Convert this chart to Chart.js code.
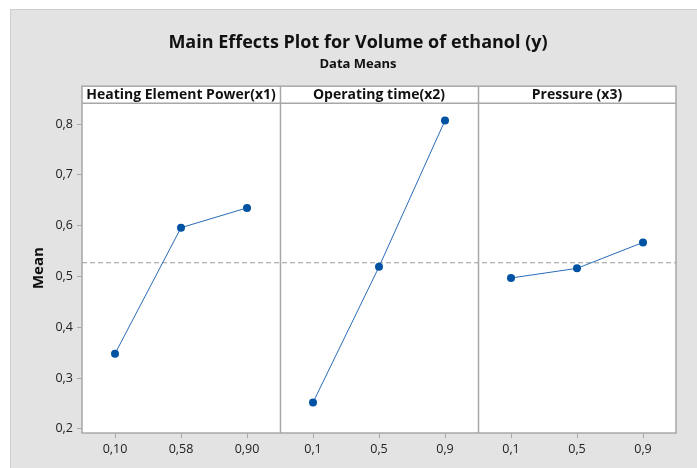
<!DOCTYPE html>
<html>
<head>
<meta charset="utf-8">
<script src="https://cdn.jsdelivr.net/npm/chart.js@4.4.0/dist/chart.umd.min.js"></script>
<style>
html, body { margin: 0; padding: 0; background: #fff; }
#wrap { width: 697px; height: 468px; }
</style>
</head>
<body>
<div id="wrap"><canvas id="myChart"></canvas></div>
<script>
// factor panels
var factorNames = ['Heating Element Power(x1)', 'Operating time(x2)', 'Pressure (x3)'];
var x1Levels = ['0,10', '0,58', '0,90'];
var x2Levels = ['0,1', '0,5', '0,9'];
var x3Levels = ['0,1', '0,5', '0,9'];

// data means
var x1Means = [0.348, 0.596, 0.635];
var x2Means = [0.252, 0.519, 0.807];
var x3Means = [0.497, 0.516, 0.567];
var grandMean = 0.527;

var yTicks = [0.2, 0.3, 0.4, 0.5, 0.6, 0.7, 0.8];

var levels = [x1Levels, x2Levels, x3Levels];
var means = [x1Means, x2Means, x3Means];
var fontFam = '"Open Sans", "Noto Sans", sans-serif';

function panelPoints(p) {
    return means[p].map(function (v, i) {
        return { x: p * 3 + i + 0.5, y: v };
    });
}

var lineColor = '#2b6cb8';
var pointColor = '#0052a3';

var datasets = [];
for (var p = 0; p < 3; p++) {
    datasets.push({
        data: panelPoints(p),
        borderColor: lineColor,
        borderWidth: 1,
        pointRadius: 4,
        pointBackgroundColor: pointColor,
        pointBorderColor: pointColor,
        pointBorderWidth: 0,
        order: 1
    });
}
// grand mean reference line
datasets.push({
    data: [{ x: 0, y: grandMean }, { x: 9, y: grandMean }],
    borderColor: '#9a9a9a',
    borderWidth: 1,
    borderDash: [5, 3],
    pointRadius: 0,
    order: 2
});

var panelPlugin = {
    id: 'panels',
    beforeDraw: function (chart) {
        var ctx = chart.ctx;
        ctx.save();
        ctx.fillStyle = '#fff';
        ctx.fillRect(0, 0, chart.width, chart.height);
        ctx.fillStyle = '#e3e3e3';
        ctx.fillRect(10, 9, chart.width - 10, chart.height - 9);
        ctx.strokeStyle = '#cfcfcf';
        ctx.lineWidth = 1;
        ctx.beginPath();
        ctx.moveTo(10.5, chart.height);
        ctx.lineTo(10.5, 9.5);
        ctx.lineTo(chart.width, 9.5);
        ctx.stroke();
        var a = chart.chartArea;
        ctx.fillStyle = '#fff';
        ctx.fillRect(a.left, a.top - 17, a.right - a.left, a.bottom - a.top + 17);
        ctx.restore();
    },
    afterDraw: function (chart) {
        var ctx = chart.ctx;
        var a = chart.chartArea;
        var xs = chart.scales.x;
        ctx.save();
        ctx.strokeStyle = '#a8a8a8';
        ctx.lineWidth = 1.5;
        ctx.strokeRect(a.left, a.top - 17, a.right - a.left, a.bottom - a.top + 17);
        ctx.beginPath();
        ctx.moveTo(a.left, a.top);
        ctx.lineTo(a.right, a.top);
        for (var k = 1; k < 3; k++) {
            var px = Math.round(xs.getPixelForValue(k * 3)) + 0.5;
            ctx.moveTo(px, a.top - 17);
            ctx.lineTo(px, a.bottom);
        }
        ctx.stroke();
        ctx.fillStyle = '#111';
        ctx.font = 'bold 14px ' + fontFam;
        ctx.textAlign = 'center';
        ctx.textBaseline = 'middle';
        for (var j = 0; j < 3; j++) {
            var cx = xs.getPixelForValue(j * 3 + 1.5);
            ctx.fillText(factorNames[j], cx, a.top - 8);
        }
        ctx.restore();
    }
};

var chart = new Chart(document.getElementById('myChart').getContext('2d'), {
    type: 'line',
    data: { datasets: datasets },
    options: {
        responsive: true,
        maintainAspectRatio: false,
        animation: false,
        layout: { padding: { left: 19, right: 0, top: 9, bottom: 0 } },
        plugins: {
            legend: { display: false },
            tooltip: { enabled: false },
            title: {
                display: true,
                text: 'Main Effects Plot for Volume of ethanol (y)',
                color: '#111',
                font: { family: fontFam, size: 18, weight: 'bold' },
                padding: { top: 23, bottom: 3 }
            },
            subtitle: {
                display: true,
                text: 'Data Means',
                color: '#111',
                font: { family: fontFam, size: 13, weight: 'bold' },
                padding: { top: 0, bottom: 31 }
            }
        },
        scales: {
            x: {
                type: 'linear',
                min: 0,
                max: 9,
                afterBuildTicks: function (scale) {
                    var t = [];
                    for (var p = 0; p < 3; p++) {
                        for (var i = 0; i < 3; i++) t.push({ value: p * 3 + i + 0.5 });
                    }
                    scale.ticks = t;
                },
                afterFit: function (scale) { scale.height = 35; },
                ticks: {
                    autoSkip: false,
                    maxRotation: 0,
                    padding: 4,
                    color: '#222',
                    font: { family: fontFam, size: 12.5 },
                    callback: function (v) {
                        var p = Math.floor(v / 3);
                        var i = Math.floor(v - p * 3);
                        return levels[p][i];
                    }
                },
                grid: { drawOnChartArea: false, drawTicks: true, tickLength: 5, color: '#a8a8a8' },
                border: { display: false }
            },
            y: {
                min: 0.192,
                max: 0.841,
                afterBuildTicks: function (scale) {
                    scale.ticks = yTicks.map(function (v) { return { value: v }; });
                },
                afterFit: function (scale) { scale.width = 63; },
                title: {
                    display: true,
                    text: 'Mean',
                    color: '#111',
                    font: { family: fontFam, size: 15, weight: 'bold' },
                    padding: { top: 11, bottom: 0 }
                },
                ticks: {
                    padding: 4,
                    color: '#222',
                    font: { family: fontFam, size: 12.5 },
                    callback: function (v) { return v.toFixed(1).replace('.', ','); }
                },
                grid: { drawOnChartArea: false, drawTicks: true, tickLength: 5, color: '#a8a8a8' },
                border: { display: false }
            },
            // empty right margin so the title centres like the reference
            yRight: {
                position: 'right',
                display: true,
                afterFit: function (scale) { scale.width = 21; },
                ticks: { display: false },
                grid: { display: false, drawTicks: false },
                border: { display: false }
            }
        }
    },
    plugins: [panelPlugin]
});
</script>
</body>
</html>
